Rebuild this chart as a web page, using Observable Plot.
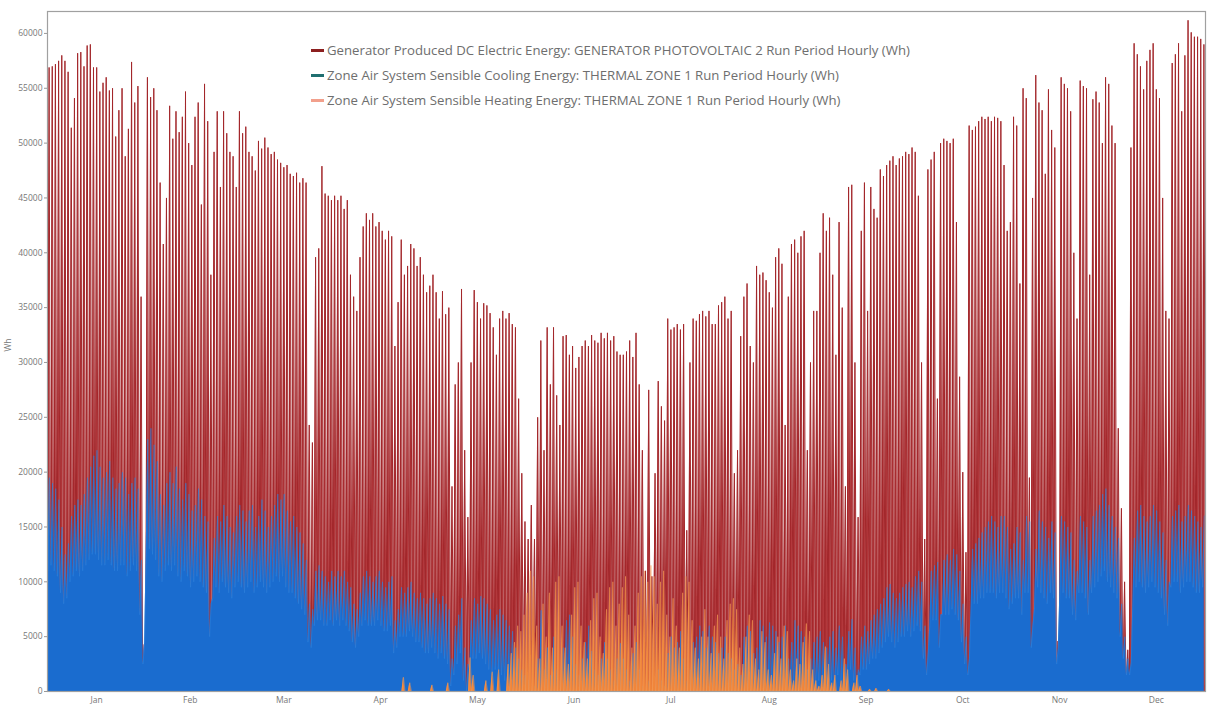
<!DOCTYPE html>
<html>
<head>
<meta charset="utf-8">
<script src="https://cdn.jsdelivr.net/npm/d3@7"></script>
<script src="https://cdn.jsdelivr.net/npm/@observablehq/plot@0.6"></script>
<style>
  html, body { margin: 0; padding: 0; background: #fff; }
  #wrap { position: relative; width: 1207px; height: 706px; font-family: "Open Sans", sans-serif; }
  #legend { position: absolute; left: 311px; top: 38px; font-size: 13.2px; color: #6e6e6e; line-height: 25px; }
  #legend .row { display: flex; align-items: center; white-space: nowrap; }
  #legend .sw { display: inline-block; width: 13px; height: 2.5px; margin-right: 3px; }
</style>
</head>
<body>
<div id="wrap"><div id="chart"></div><div id="legend"></div></div>
<script>
// Series names (legend)
const seriesNames = [
  "Generator Produced DC Electric Energy: GENERATOR PHOTOVOLTAIC 2 Run Period Hourly (Wh)",
  "Zone Air System Sensible Cooling Energy: THERMAL ZONE 1 Run Period Hourly (Wh)",
  "Zone Air System Sensible Heating Energy: THERMAL ZONE 1 Run Period Hourly (Wh)"
];
const months = ["Jan","Feb","Mar","Apr","May","Jun","Jul","Aug","Sep","Oct","Nov","Dec"];
const monthDays = [31,28,31,30,31,30,31,31,30,31,30,31];
const yTicks = [0,5000,10000,15000,20000,25000,30000,35000,40000,45000,50000,55000,60000];

// Daily peak of PV generation (Wh) (zero at night)
const pvPeak = [
  // Jan
  56900,57000,57200,57500,58000,57500,56500,51400,54100,58200,
  58300,57000,58900,59000,56900,56900,54700,55500,56000,54800,
  55000,50600,53000,55000,48800,51300,57400,53700,55200,36000,4300,
  // Feb
  56000,54200,55000,53000,46400,40800,45000,53400,50400,52900,
  51000,52400,54700,50000,48000,52400,53700,44400,55400,52000,
  38000,49200,52900,46000,52900,50900,49200,48800,
  // Mar
  46000,52900,50900,51500,49200,48800,47500,50200,49500,50500,
  49600,49000,49200,48500,48200,47800,48000,47200,47000,47300,
  46400,46800,46400,24300,22700,39600,40400,47900,45400,45200,44800,
  // Apr
  45200,44800,45200,44000,44800,38000,36000,34700,39600,42400,
  43600,43000,43600,42400,42800,42000,41200,42000,41500,31500,
  35500,41200,38000,38800,40800,40400,38800,39600,38000,36400,
  // May
  37000,38000,36400,34000,36500,34400,35000,18700,28000,30000,
  36700,22000,15900,30000,36600,35500,34000,35400,35200,34500,
  33200,30700,34000,34700,34000,34500,33500,33200,26700,19900,15500,
  // Jun
  13900,17000,13900,25000,32000,22000,33200,28000,33200,27000,
  24300,32400,32500,30700,31500,29500,30500,31500,32000,31500,
  32500,32000,31800,32700,32200,32700,32000,32400,31000,30700,
  // Jul
  30700,31000,32000,30500,32700,28000,22000,11000,27500,10500,
  19900,28300,26000,24700,34000,33000,33200,33500,33000,33500,
  14700,30000,34000,33800,34400,34700,34200,34700,33500,33500,35200,
  // Aug
  35500,36000,34000,34700,19900,22000,32400,36000,37200,31500,
  30000,38800,38000,38200,37500,36400,35000,39600,40400,39000,
  24300,36000,40800,41200,40000,41500,42000,22000,30000,34700,34700,
  // Sep
  40000,43600,42000,43200,38000,30700,42800,35000,18700,46000,
  46200,30000,15900,42000,46400,34700,46000,44000,43200,47600,
  47000,48000,48400,48800,48000,48600,48800,49200,49000,49600,
  // Oct
  49200,45200,30000,13900,47600,48500,49200,26700,50000,50400,
  50200,50000,50400,42800,28700,20000,12700,51600,51200,51500,
  52000,52400,52200,52400,52000,52400,52300,52000,48000,42000,42800,
  // Nov
  52400,51600,37200,55000,54100,19500,45000,56200,53700,53000,
  47200,54900,51200,49600,4600,56000,55400,55000,52900,40000,
  34000,55700,55200,55000,38000,54000,54700,53700,50000,56000,
  // Dec
  55400,51600,50000,24000,16700,10000,3800,49600,59100,58100,
  57000,54900,57500,58500,59100,54900,54100,45000,34700,34000,
  57300,58100,59100,52900,58000,61200,60100,59700,59700,59500,59000
];

// Daily afternoon peak of sensible cooling (Wh)
const coolHi = [
  // Jan
  19500,19000,18500,17500,15000,12500,13500,16000,17000,17500,
  17000,18000,19500,20500,21500,22000,20500,19500,20000,21000,
  19500,18500,19000,20000,19500,18000,19000,19500,18500,12000,4400,
  // Feb
  23000,24000,22500,21000,18000,17000,19000,20000,19000,20500,
  18500,17500,19000,18000,16500,17000,18500,17500,16000,15500,
  8000,14000,16000,15500,17000,16000,15000,14500,
  // Mar
  16000,17000,16500,15500,16500,17000,15000,16000,17500,16500,
  15000,16000,17000,18000,17500,18000,16500,15500,16000,15000,
  14500,13500,12000,8000,7500,11000,11500,11000,10500,10000,11000,
  // Apr
  10500,11000,10500,11000,10000,9500,8000,7500,9000,10500,
  11000,10500,10000,10500,11000,10000,9500,10000,10500,6500,
  7500,9500,9000,9500,10000,9000,8500,9000,8500,8000,
  // May
  8500,9000,8500,8000,8700,8000,7500,3000,6000,7000,
  8500,4000,2500,6500,8500,8000,8700,8500,8000,7500,
  6500,7000,7500,7000,6500,6000,5500,4000,3000,2000,1500,
  // Jun
  1000,0,500,3000,7400,2000,4000,1500,5000,2000,
  1000,4000,6500,7000,5000,2500,1500,3000,4500,6000,
  3700,2000,1500,3000,4500,3000,2000,1000,3000,4400,
  // Jul
  3000,2000,1000,3500,4500,2000,500,0,1000,0,
  500,2000,1000,500,3500,5000,4000,4500,5500,3000,
  1000,2000,4500,5000,6000,5500,4000,6000,5000,4500,3500,
  // Aug
  4000,5000,3500,3000,2000,2500,1500,5000,6000,5500,
  3500,4000,6500,6000,5000,6300,6000,5500,4500,5000,
  6000,3000,4500,6500,6000,5500,5000,2000,3000,4500,5000,
  // Sep
  5500,4500,4000,5000,5500,4000,6000,5000,2500,5500,
  6600,4000,2000,5000,6000,5500,6500,7000,7500,8000,
  8500,9500,9800,9000,8500,9000,9500,9800,10000,9500,
  // Oct
  10500,11000,10000,6000,3500,11000,11500,11800,7000,12000,
  12500,12000,13000,12500,11000,8000,5000,3000,13000,13500,
  14000,14500,15000,15500,16000,15500,15000,16000,16000,15000,13000,
  // Nov
  13500,15000,14500,12000,16000,15500,6000,13000,16500,15500,
  15000,14000,15500,14500,4000,16000,15500,15000,14500,12000,
  11000,16000,15500,15000,12000,16000,16500,17000,18000,18500,
  // Dec
  17000,16000,15000,14000,8000,5000,3000,2600,14000,16500,
  17000,16000,15500,16000,17000,16500,15500,14500,12000,10000,
  16000,16500,17000,15500,16000,17000,16500,16000,15500,15000,16000
];

// Daily night-time level of sensible cooling (Wh)
const coolLo = [
  // Jan
  11000,11500,11000,10500,9000,8000,8500,10000,10500,11000,
  10500,11000,11500,12000,12500,12500,12000,11500,11500,12000,
  11500,11000,11000,11500,11500,10500,11000,11500,11000,7000,2500,
  // Feb
  12500,13000,12500,12000,10500,10000,11000,11500,11000,11500,
  10500,10000,11000,10500,9500,10000,10500,10000,9500,9000,
  5000,8500,9500,9000,10000,9500,9000,8500,
  // Mar
  9500,10000,9500,9000,9500,10000,9000,9500,10000,9500,
  9000,9500,10000,10500,10000,10500,9500,9000,9000,8500,
  8000,7500,7000,4500,4000,6000,6500,6500,6000,6000,6500,
  // Apr
  6000,6500,6000,6500,6000,5500,4500,4000,5000,6000,
  6500,6000,6000,6000,6500,6000,5500,5500,6000,3500,
  4000,5000,5000,5000,5500,5000,4500,4500,4000,3500,
  // May
  3500,4000,3500,3000,3500,3000,2500,500,1500,2500,
  3500,1000,0,2000,3000,3000,3500,3000,2500,2000,
  1500,2000,2000,1500,1000,1000,500,0,0,0,0,
  // Jun
  0,0,0,0,0,0,0,0,0,0,
  0,0,0,0,0,0,0,0,0,0,
  0,0,0,0,0,0,0,0,0,0,
  // Jul
  0,0,0,0,0,0,0,0,0,0,
  0,0,0,0,0,0,0,0,0,0,
  0,0,0,0,0,0,0,0,0,0,0,
  // Aug
  0,0,0,0,0,0,0,0,0,0,
  0,0,0,0,0,0,0,0,0,0,
  500,0,500,500,500,500,500,0,0,500,500,
  // Sep
  1000,500,500,1000,1000,500,1500,1000,0,1500,
  2000,1000,0,1500,2000,2000,2500,3000,3000,3500,
  4000,4500,5000,4500,4000,4500,5000,5000,5500,5000,
  // Oct
  5500,6000,5500,3000,1500,6000,6500,6500,4000,7000,
  7000,7000,7500,7000,6500,4500,2500,1500,7500,8000,
  8000,8500,8500,9000,9000,9000,8500,9000,9000,8500,7500,
  // Nov
  8000,8500,8500,7000,9000,9000,4000,7500,9500,9000,
  8500,8000,9000,8500,2500,9000,9000,8500,8500,7000,
  6500,9000,9000,8500,7000,9000,9500,10000,10500,11000,
  // Dec
  10000,9500,9000,8500,5000,3000,1500,1500,8000,9500,
  10000,9500,9000,9500,10000,9500,9000,8500,7000,6000,
  9500,10000,10000,9000,9500,10000,10000,9500,9000,9000,9500
];

// Daily early-morning peak of sensible heating (Wh)
const heatHi = [
  // Jan
  0,0,0,0,0,0,0,0,0,0, 0,0,0,0,0,0,0,0,0,0, 0,0,0,0,0,0,0,0,0,0,0,
  // Feb
  0,0,0,0,0,0,0,0,0,0, 0,0,0,0,0,0,0,0,0,0, 0,0,0,0,0,0,0,0,
  // Mar
  0,0,0,0,0,0,0,0,0,0, 0,0,0,0,0,0,0,0,0,0, 0,0,0,0,0,0,0,0,0,0,0,
  // Apr
  0,0,0,0,0,0,0,0,0,0, 0,0,0,0,0,0,0,0,0,0, 0,0,1300,0,800,0,0,0,0,0,
  // May
  0,600,0,0,0,0,800,0,0,0,
  0,0,0,3100,1500,0,0,0,1000,0,
  1800,0,2000,0,0,2500,3500,4500,6000,5500,7000,
  // Jun
  9000,11000,10500,6000,3000,8000,5000,9000,4000,10000,
  10500,6000,4000,2500,7000,9500,10000,6000,4500,3000,
  6500,8500,9000,5000,3500,7500,9500,10000,6000,8000,
  // Jul
  9500,10500,7000,4000,6000,9000,10500,11000,10000,11500,
  10500,8000,10000,11000,7000,5000,8500,6000,4000,9000,
  10500,10000,6500,4000,3000,5000,7500,5000,3500,6000,7000,
  // Aug
  5000,3000,6500,8000,8500,7500,4000,2500,5000,7000,
  6500,3000,2000,5500,4500,2000,1500,3500,5000,3000,
  6000,5500,2000,1000,3000,2500,4500,6200,5500,2000,1000,
  // Sep
  500,1500,4100,2500,800,1500,0,1000,3000,2000,
  0,800,1500,500,0,0,200,0,300,0,
  0,0,200,0,0,0,0,0,0,0,
  // Oct
  0,0,0,0,0,0,0,0,0,0, 0,0,0,0,0,0,0,0,0,0, 0,0,0,0,0,0,0,0,0,0,0,
  // Nov
  0,0,0,0,0,0,0,0,0,0, 0,0,0,0,0,0,0,0,0,0, 0,0,0,0,0,0,0,0,0,0,
  // Dec
  0,0,0,0,0,0,0,0,0,0, 0,0,0,0,0,0,0,0,0,0, 0,0,0,0,0,0,0,0,0,0,0
];

const colors = { pvFill: "#b3383c", pvLine: "#a3272b", coolFill: "#1a6ccf", coolLine: "#2f82dc", heatFill: "#f0853a", heatLine: "#f49a55" };
const legendColors = ["#8c1f1f", "#1f6f70", "#f2a08c"];

// month mid-points (day of year) for the axis labels
const monthStart = [];
monthDays.reduce((s, n) => { monthStart.push(s); return s + n; }, 0);
const monthMid = monthStart.map((s, i) => s + monthDays[i] / 2);
const monthLabel = new Map(monthMid.map((m, i) => [m, months[i]]));

// hourly-like tables: PV zero at midnight, peak at midday
const pvPts = [];
pvPeak.forEach((v, d) => { pvPts.push({x: d, y: 0}, {x: d + 0.5, y: v}); });
pvPts.push({x: 365, y: 0});
const coolPts = [];
coolHi.forEach((v, d) => { coolPts.push({x: d + 0.1, y: coolLo[d]}, {x: d + 0.6, y: v}); });
const heatPts = [];
heatHi.forEach((v, d) => { heatPts.push({x: d + 0.2, y: v}, {x: d + 0.7, y: 0}); });

const chart = Plot.plot({
  width: 1207, height: 706,
  marginLeft: 47, marginRight: 2, marginTop: 11, marginBottom: 15,
  style: { fontFamily: "Open Sans, sans-serif", fontSize: "8.5px", color: "#777", background: "#fff" },
  x: { domain: [0, 365] },
  y: { domain: [0, 62000] },
  marks: [
    Plot.areaY(pvPts, { x: "x", y: "y", fill: colors.pvFill }),
    Plot.lineY(pvPts, { x: "x", y: "y", stroke: colors.pvLine, strokeWidth: 1 }),
    Plot.areaY(coolPts, { x: "x", y: "y", fill: colors.coolFill }),
    Plot.lineY(coolPts, { x: "x", y: "y", stroke: colors.coolLine, strokeWidth: 0.5 }),
    Plot.areaY(heatPts, { x: "x", y: "y", fill: colors.heatFill }),
    Plot.lineY(heatPts, { x: "x", y: "y", stroke: colors.heatLine, strokeWidth: 0.5 }),
    Plot.frame({ stroke: "#a0a0a0", strokeWidth: 1.2 }),
    Plot.axisY(yTicks, { tickSize: 3, tickPadding: 2, label: null, stroke: "#999", fill: "#777", tickFormat: d => String(d) }),
    Plot.axisX(monthMid, { tickSize: 0, tickPadding: 5, label: null, tickFormat: d => monthLabel.get(d), fill: "#777" }),
    Plot.text(["Wh"], { frameAnchor: "left", dx: -39, rotate: -90, fill: "#777", fontSize: 8.5 })
  ]
});
document.getElementById("chart").appendChild(chart);

const legend = document.getElementById("legend");
seriesNames.forEach((name, i) => {
  const row = document.createElement("div");
  row.className = "row";
  const sw = document.createElement("span");
  sw.className = "sw";
  sw.style.background = legendColors[i];
  const tx = document.createElement("span");
  tx.textContent = name;
  row.appendChild(sw); row.appendChild(tx);
  legend.appendChild(row);
});
</script>
</body>
</html>
